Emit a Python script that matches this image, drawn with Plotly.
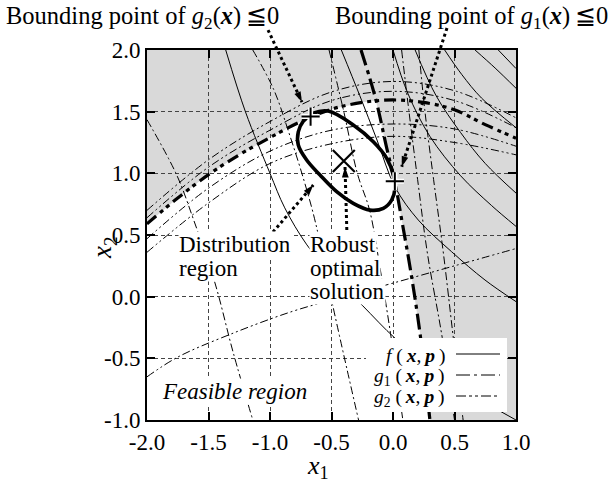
import math
import plotly.graph_objects as go

# ---------------- data ----------------
X_RANGE = [-2.0, 1.0]
Y_RANGE = [-1.0, 2.0]
TICK_VALS_X = [-2.0, -1.5, -1.0, -0.5, 0.0, 0.5, 1.0]
TICK_TEXT_X = ["-2.0", "-1.5", "-1.0", "-0.5", "0.0", "0.5", "1.0"]
TICK_VALS_Y = [-1.0, -0.5, 0.0, 0.5, 1.0, 1.5, 2.0]
TICK_TEXT_Y = ["-1.0", "-0.5", "0.0", "0.5", "1.0", "1.5", "2.0"]

# constraint boundaries g2(x)=0 (upper arc) and g1(x)=0 (near-vertical curve)
G2_BOUND_X = [-2.0, -1.75, -1.5, -1.25, -1.0, -0.75, -0.5, -0.25, 0.0, 0.25, 0.5, 0.75, 1.0]
G2_BOUND_Y = [0.59, 0.80, 0.99, 1.15, 1.29, 1.42, 1.52, 1.575, 1.595, 1.575, 1.515, 1.395, 1.285]
G1_BOUND_X = [-0.26, -0.14, -0.05, 0.015, 0.075, 0.145, 0.22, 0.30]
G1_BOUND_Y = [2.0, 1.6, 1.2, 0.93, 0.6, 0.2, -0.3, -1.0]
BOUND_CROSS = (-0.14, 1.59)

# thin contours of g1 (dash-dot)
G1_LINES = [
    ([-2.0, -1.76, -1.62, -1.45, -1.30, -1.14], [1.435, 0.99, 0.62, 0.12, -0.45, -1.0]),
    ([-1.14, -0.97, -0.84, -0.72, -0.63, -0.49, -0.28], [2.0, 1.68, 1.31, 0.93, 0.60, -0.07, -1.0]),
    ([-0.52, -0.40, -0.29, -0.19, -0.10, -0.02, 0.08], [2.0, 1.5, 1.0, 0.7, 0.2, -0.3, -1.0]),
    ([0.07, 0.13, 0.20, 0.28, 0.40, 0.50], [2.0, 1.5, 0.95, 0.35, -0.33, -1.0]),
    ([0.21, 0.26, 0.33, 0.41, 0.49, 0.57], [2.0, 1.5, 0.95, 0.35, -0.33, -1.0]),
]
# thin contours of g2 (dash-dot-dot)
G2_X = [-2.0, -1.5, -1.0, -0.5, 0.0, 0.5, 1.0]
G2_LINES = [
    (G2_X, [0.64, 1.05, 1.35, 1.59, 1.665, 1.59, 1.37]),
    (G2_X, [0.70, 1.11, 1.42, 1.66, 1.745, 1.67, 1.45]),
    (G2_X, [0.47, 0.88, 1.18, 1.35, 1.40, 1.36, 1.22]),
    (G2_X, [0.36, 0.76, 1.08, 1.24, 1.30, 1.25, 1.15]),
    ([-2.0, -1.75, -1.31, -0.82, -0.4, 0.0, 0.5, 1.0], [-0.65, -0.49, -0.30, -0.12, 0.0, 0.11, 0.25, 0.39]),
]
# thin contours of f (solid)
F_LINES = [
    ([-1.36, -1.2, -1.0, -0.88, -0.7, -0.5, -0.25, 0.02, 0.3, 0.6, 1.0],
     [2.0, 1.5, 1.0, 0.72, 0.42, 0.18, -0.07, -0.34, -0.56, -0.77, -1.0]),
    ([-0.42, -0.27, -0.13, 0.016, 0.206, 0.477, 0.748, 1.0], [2.0, 1.63, 1.27, 0.89, 0.621, 0.364, 0.135, -0.04]),
    ([0.0, 0.12, 0.3, 0.55, 0.8, 1.0], [2.0, 1.65, 1.3, 0.98, 0.74, 0.57]),
    ([0.18, 0.35, 0.55, 0.75, 1.0], [2.0, 1.63, 1.33, 1.08, 0.84]),
    ([0.42, 0.56, 0.72, 1.0], [2.0, 1.8, 1.61, 1.37]),
    ([0.667, 0.83, 1.0], [2.0, 1.854, 1.69]),
    ([0.856, 1.0], [2.0, 1.85]),
]
# distribution region (ellipse outline)
ELL_X = [-0.526, -0.323, -0.160, -0.051, 0.003, 0.016, -0.011, -0.079, -0.187, -0.323,
         -0.458, -0.593, -0.702, -0.770, -0.770, -0.729, -0.648, -0.526]
ELL_Y = [1.505, 1.392, 1.256, 1.122, 0.986, 0.878, 0.783, 0.716, 0.702, 0.757,
         0.851, 0.986, 1.108, 1.230, 1.337, 1.424, 1.487, 1.505]
ROBUST_OPT = ([-0.4], [1.1])
BOUND_PTS = ([-0.67, 0.015], [1.46, 0.935])

# arrows: (start x, start y, tip x, tip y) in data units
ARROWS = [
    (-1.016, 2.162, -0.740, 1.578),
    (0.439, 2.178, 0.071, 1.054),
    (-0.976, 0.524, -0.648, 0.905),
    (-0.374, 0.492, -0.390, 1.051),
]

FONT = "Liberation Serif, Times New Roman, serif"
GRAY = "#d9d9d9"

W, H = 611, 483
ML, MR, MT, MB = 147, 95, 50, 63
PW, PH = W - ML - MR, H - MT - MB


def px(x):
    return (x - X_RANGE[0]) / (X_RANGE[1] - X_RANGE[0])


def py(y):
    return (y - Y_RANGE[0]) / (Y_RANGE[1] - Y_RANGE[0])


fig = go.Figure()

G1_DASH = "8px,3px,2px,3px"
G2_DASH = "8px,3px,2px,3px,2px,3px"

for xs, ys in F_LINES:
    fig.add_trace(go.Scatter(x=xs, y=ys, mode="lines", line=dict(color="black", width=1, shape="spline"),
                             hoverinfo="skip", showlegend=False))
for xs, ys in G1_LINES:
    fig.add_trace(go.Scatter(x=xs, y=ys, mode="lines",
                             line=dict(color="black", width=1, dash=G1_DASH, shape="spline"),
                             hoverinfo="skip", showlegend=False))
for xs, ys in G2_LINES:
    fig.add_trace(go.Scatter(x=xs, y=ys, mode="lines",
                             line=dict(color="black", width=1, dash=G2_DASH, shape="spline"),
                             hoverinfo="skip", showlegend=False))

# thick boundaries
fig.add_trace(go.Scatter(x=G2_BOUND_X, y=G2_BOUND_Y, mode="lines",
                         line=dict(color="black", width=3.2, dash="12px,5px,4px,4px,4px,5px", shape="spline"),
                         hoverinfo="skip", showlegend=False))
fig.add_trace(go.Scatter(x=G1_BOUND_X, y=G1_BOUND_Y, mode="lines",
                         line=dict(color="black", width=3.2, dash="16px,5px,4px,5px", shape="spline"),
                         hoverinfo="skip", showlegend=False))

# ellipse
fig.add_trace(go.Scatter(x=ELL_X, y=ELL_Y, mode="lines",
                         line=dict(color="black", width=3.6, shape="spline"),
                         hoverinfo="skip", showlegend=False))

# markers
fig.add_trace(go.Scatter(x=BOUND_PTS[0], y=BOUND_PTS[1], mode="markers",
                         marker=dict(symbol="cross-thin", size=13, line=dict(color="white", width=5)),
                         hoverinfo="skip", showlegend=False))
fig.add_trace(go.Scatter(x=BOUND_PTS[0], y=BOUND_PTS[1], mode="markers",
                         marker=dict(symbol="cross-thin", size=13, line=dict(color="black", width=2)),
                         hoverinfo="skip", showlegend=False))
fig.add_trace(go.Scatter(x=ROBUST_OPT[0], y=ROBUST_OPT[1], mode="markers",
                         marker=dict(symbol="x-thin", size=22, line=dict(color="black", width=2.2)),
                         hoverinfo="skip", showlegend=False))

shapes = []
# feasible (white) region, built from the two boundary curves
pts = [(X_RANGE[0], Y_RANGE[0])]
pts += [(x, y) for x, y in zip(G2_BOUND_X, G2_BOUND_Y) if x < BOUND_CROSS[0]]
pts.append(BOUND_CROSS)
pts += [(x, y) for x, y in zip(G1_BOUND_X, G1_BOUND_Y) if y < BOUND_CROSS[1]]
path = "M " + " L ".join(f"{x},{y}" for x, y in pts) + " Z"
shapes.append(dict(type="path", path=path, xref="x", yref="y", fillcolor="white",
                   line=dict(width=0), layer="below"))

annotations = []
# dotted arrows: dotted line as shape, head as arrow marker at the tip
tip_x, tip_y, tip_ang = [], [], []
for x0, y0, x1, y1 in ARROWS:
    shapes.append(dict(type="line", xref="paper", yref="paper", x0=px(x0), y0=py(y0), x1=px(x1), y1=py(y1),
                       line=dict(color="black", width=3, dash="dot"), layer="above"))
    dx = (x1 - x0) * PW / 3.0
    dy = (y1 - y0) * PH / 3.0
    tip_x.append(x1)
    tip_y.append(y1)
    tip_ang.append(math.degrees(math.atan2(dx, dy)))
fig.add_trace(go.Scatter(x=tip_x, y=tip_y, mode="markers", cliponaxis=False,
                         marker=dict(symbol="arrow", size=11, angle=tip_ang, color="black",
                                     line=dict(width=0)),
                         hoverinfo="skip", showlegend=False))

TXT = dict(family=FONT, size=23, color="black")


def pxl(xp):
    return (xp - ML) / PW


def pyl(yp):
    return (H - MB - yp) / PH


TOP = dict(family=FONT, size=24.5, color="black")
TS = "\u2009"
annotations.append(dict(x=pxl(4), y=pyl(17), xref="paper", yref="paper", xanchor="left", yanchor="middle",
                        text=f"Bounding point of <i>g</i><sub>2</sub>(<b><i>x</i></b>){TS}≦0",
                        showarrow=False, font=TOP))
annotations.append(dict(x=pxl(333), y=pyl(17), xref="paper", yref="paper", xanchor="left", yanchor="middle",
                        text=f"Bounding point of <i>g</i><sub>1</sub>(<b><i>x</i></b>){TS}≦0",
                        showarrow=False, font=TOP))

# in-plot labels (white background)
for txt, xp, yp in [("Distribution", 178, 244), ("region", 178, 268),
                    ("Robust", 309, 245), ("optimal", 309, 268), ("solution", 309, 291)]:
    annotations.append(dict(x=pxl(xp), y=pyl(yp), xref="paper", yref="paper", xanchor="left", yanchor="middle",
                            text=txt, showarrow=False, font=TXT, bgcolor="white", borderpad=0))
annotations.append(dict(x=pxl(161), y=pyl(391), xref="paper", yref="paper", xanchor="left", yanchor="middle",
                        text="<i>Feasible region</i>", showarrow=False, font=TXT, bgcolor="white", borderpad=0))

# legend
shapes.append(dict(type="rect", xref="paper", yref="paper", x0=pxl(366), x1=pxl(507), y0=pyl(412), y1=pyl(338),
                   fillcolor="white", line=dict(width=0), layer="above"))
ARGS = f"({TS}<b><i>x</i></b>,{TS}<b><i>p</i></b>{TS})"
LEG = [(f"<i>f</i> {ARGS}", 356, None),
       (f"<i>g</i><sub>1</sub> {ARGS}", 377, "14px,4px,3px,4px"),
       (f"<i>g</i><sub>2</sub> {ARGS}", 398, "10px,3px,3px,3px,3px,3px")]
for txt, yp, dash in LEG:
    annotations.append(dict(x=pxl(447), y=pyl(yp), xref="paper", yref="paper", xanchor="right", yanchor="middle",
                            text=txt, showarrow=False, font=dict(family=FONT, size=19.5, color="black")))
    ln = dict(color="black", width=1)
    if dash:
        ln["dash"] = dash
    shapes.append(dict(type="line", xref="paper", yref="paper", x0=pxl(456), x1=pxl(500),
                       y0=pyl(yp - 2), y1=pyl(yp - 2), line=ln, layer="above"))

# axis titles
annotations.append(dict(x=pxl(318), y=pyl(467.5), xref="paper", yref="paper", xanchor="center", yanchor="middle",
                        text="<i>x</i><sub>1</sub>", showarrow=False,
                        font=dict(family=FONT, size=26, color="black")))
annotations.append(dict(x=pxl(104), y=pyl(248), xref="paper", yref="paper", xanchor="center", yanchor="middle",
                        text="<i>x</i><sub>2</sub>", showarrow=False, textangle=-90,
                        font=dict(family=FONT, size=27, color="black")))

AX = dict(showline=True, linewidth=2, linecolor="black", mirror="ticks", ticks="inside", ticklen=8,
          tickwidth=2, tickcolor="black", showgrid=True, gridcolor="#444", gridwidth=1, griddash="4px,3px",
          zeroline=False, tickfont=dict(family=FONT, size=23, color="black"))

fig.update_layout(
    width=W, height=H, margin=dict(l=ML, r=MR, t=MT, b=MB),
    paper_bgcolor="white", plot_bgcolor=GRAY, showlegend=False,
    font=dict(family=FONT, color="black"),
    xaxis=dict(range=X_RANGE, tickvals=TICK_VALS_X, ticktext=TICK_TEXT_X, **AX),
    yaxis=dict(range=Y_RANGE, tickvals=TICK_VALS_Y, ticktext=TICK_TEXT_Y, **AX),
    shapes=shapes, annotations=annotations,
)

fig.write_html("out.html", config={"displayModeBar": False},
               post_script="document.body.style.margin='0px';")
